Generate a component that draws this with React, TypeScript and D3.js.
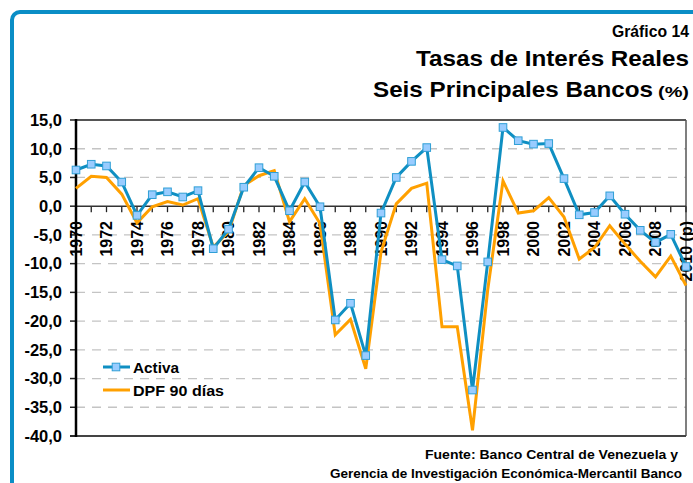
import React from "react";
import * as d3 from "d3";

const years: number[] = [
  1970, 1971, 1972, 1973, 1974, 1975, 1976, 1977, 1978, 1979,
  1980, 1981, 1982, 1983, 1984, 1985, 1986, 1987, 1988, 1989,
  1990, 1991, 1992, 1993, 1994, 1995, 1996, 1997, 1998, 1999,
  2000, 2001, 2002, 2003, 2004, 2005, 2006, 2007, 2008, 2009, 2010,
];

const activa: number[] = [
  6.3, 7.3, 7.0, 4.2, -1.6, 2.0, 2.5, 1.6, 2.7, -7.4,
  -4.0, 3.3, 6.7, 5.2, -0.8, 4.2, -0.1, -19.8, -16.9, -26.0,
  -1.2, 5.0, 7.8, 10.2, -9.3, -10.4, -32.0, -9.7, 13.7, 11.4,
  10.8, 10.9, 4.8, -1.5, -1.1, 1.8, -1.4, -4.2, -6.3, -4.9, -10.5,
];

const dpf90: number[] = [
  3.1, 5.2, 5.0, 2.1, -2.9, -0.1, 0.8, 0.2, 1.3, -7.1,
  -4.5, 3.6, 5.3, 6.2, -2.7, 1.3, -3.0, -22.4, -19.7, -28.3,
  -8.0, 0.4, 3.1, 4.0, -21.0, -21.0, -39.0, -14.5, 4.4, -1.2,
  -0.8, 1.5, -1.9, -9.2, -7.2, -3.4, -6.6, -9.6, -12.3, -8.7, -13.8,
];

const xTickLabels: string[] = [
  "1970", "1972", "1974", "1976", "1978", "1980", "1982", "1984", "1986", "1988",
  "1990", "1992", "1994", "1996", "1998", "2000", "2002", "2004", "2006", "2008", "2010 (p)",
];

const yTicks: number[] = [15, 10, 5, 0, -5, -10, -15, -20, -25, -30, -35, -40];

const seriesNames: string[] = ["Activa", "DPF 90 días"];

const FONT = "'Liberation Sans', Arial, sans-serif";
const BLUE = "#0f8fc2";
const ORANGE = "#ffa000";

export default function App() {
  const left = 76, right = 686, top = 120, bottom = 436;
  const x = d3.scalePoint<number>().domain(years).range([left, right]);
  const y = d3.scaleLinear().domain([-40, 15]).range([bottom, top]);

  const lineGen = d3
    .line<number>()
    .x((_, i) => x(years[i]) as number)
    .y((d) => y(d));

  const fmt = (v: number) => d3.format(".1f")(v).replace(".", ",").replace("−", "-");

  return (
    <svg
      width={693}
      height={483}
      style={{ position: "absolute", left: 0, top: 0, background: "#fff" }}
      fontFamily={FONT}
    >
      <rect x={0} y={0} width={693} height={483} fill="#fff" />
      {/* outer blue border */}
      <rect x={12} y={12} width={720} height={520} rx={8} fill="none" stroke="#0a8ec6" strokeWidth={4} />

      {/* titles */}
      <text x={612} y={37} fontSize={16} fontWeight="bold" textLength={77} lengthAdjust="spacingAndGlyphs">
        Gráfico 14
      </text>
      <text x={416} y={66} fontSize={21.5} fontWeight="bold" textLength={273} lengthAdjust="spacingAndGlyphs">
        Tasas de Interés Reales
      </text>
      <text x={373} y={97} fontSize={21.5} fontWeight="bold" textLength={280} lengthAdjust="spacingAndGlyphs">
        Seis Principales Bancos
      </text>
      <text x={658} y={97} fontSize={15} fontWeight="bold" textLength={31} lengthAdjust="spacingAndGlyphs">
        (%)
      </text>

      {/* gridlines */}
      {yTicks
        .filter((t) => t !== 15 && t !== 0 && t !== -40)
        .map((t) => (
          <line key={"g" + t} x1={left} x2={right} y1={y(t)} y2={y(t)} stroke="#c4c4c4" strokeWidth={1.3} strokeDasharray="9,7" />
        ))}

      {/* plot frame */}
      <line x1={left} x2={right} y1={top} y2={top} stroke="#555" strokeWidth={2} />
      <line x1={right} x2={right} y1={top} y2={bottom} stroke="#555" strokeWidth={1.5} />
      <line x1={left - 6} x2={right} y1={bottom} y2={bottom} stroke="#444" strokeWidth={2} />

      {/* y axis ticks & labels */}
      {yTicks.map((t) => (
        <g key={"y" + t}>
          <line x1={left - 6} x2={left} y1={y(t)} y2={y(t)} stroke="#222" strokeWidth={1.5} />
          <text x={62} y={y(t)} dy="0.35em" textAnchor="end" fontSize={16.5} fontWeight="bold">
            {fmt(t)}
          </text>
        </g>
      ))}

      {/* x axis ticks */}
      {years.map((yr) => (
        <line key={"xt" + yr} x1={x(yr)} x2={x(yr)} y1={y(0)} y2={y(0) + 6} stroke="#222" strokeWidth={1.3} />
      ))}
      <line x1={left} x2={right} y1={y(0)} y2={y(0)} stroke="#333" strokeWidth={1.6} />

      {/* x axis labels */}
      {xTickLabels.map((lab, i) => {
        const yr = years[i * 2];
        return (
          <text
            key={"xl" + lab}
            transform={`translate(${x(yr)},221) rotate(-90)`}
            dy="0.35em"
            textAnchor="end"
            fontSize={16}
            fontWeight="bold"
          >
            {lab}
          </text>
        );
      })}

      {/* y axis line */}
      <line x1={left} x2={left} y1={top - 1} y2={bottom + 1} stroke="#000" strokeWidth={2.5} />

      {/* series */}
      <path d={lineGen(dpf90) || ""} fill="none" stroke={ORANGE} strokeWidth={3} strokeLinejoin="miter" />
      <path d={lineGen(activa) || ""} fill="none" stroke={BLUE} strokeWidth={3} strokeLinejoin="miter" />
      {activa.map((v, i) => (
        <rect
          key={"m" + i}
          x={(x(years[i]) as number) - 3.8}
          y={y(v) - 3.8}
          width={7.6}
          height={7.6}
          fill="#99ccff"
          stroke="#2f9fd6"
          strokeWidth={1}
        />
      ))}

      {/* legend */}
      <line x1={103} x2={130} y1={367} y2={367} stroke={BLUE} strokeWidth={3} />
      <rect x={112.2} y={363.2} width={7.6} height={7.6} fill="#99ccff" stroke="#2f9fd6" strokeWidth={1} />
      <text x={133} y={373} fontSize={15.5} fontWeight="bold" textLength={46} lengthAdjust="spacingAndGlyphs">
        {seriesNames[0]}
      </text>
      <line x1={103} x2={130} y1={390} y2={390} stroke={ORANGE} strokeWidth={3} />
      <text x={133} y={396} fontSize={15.5} fontWeight="bold" textLength={91} lengthAdjust="spacingAndGlyphs">
        {seriesNames[1]}
      </text>

      {/* footer */}
      <text x={425} y={459} fontSize={12.5} fontWeight="bold" textLength={253} lengthAdjust="spacingAndGlyphs">
        Fuente: Banco Central de Venezuela y
      </text>
      <text x={330} y={478} fontSize={12.5} fontWeight="bold" textLength={352} lengthAdjust="spacingAndGlyphs">
        Gerencia de Investigación Económica-Mercantil Banco
      </text>
    </svg>
  );
}
